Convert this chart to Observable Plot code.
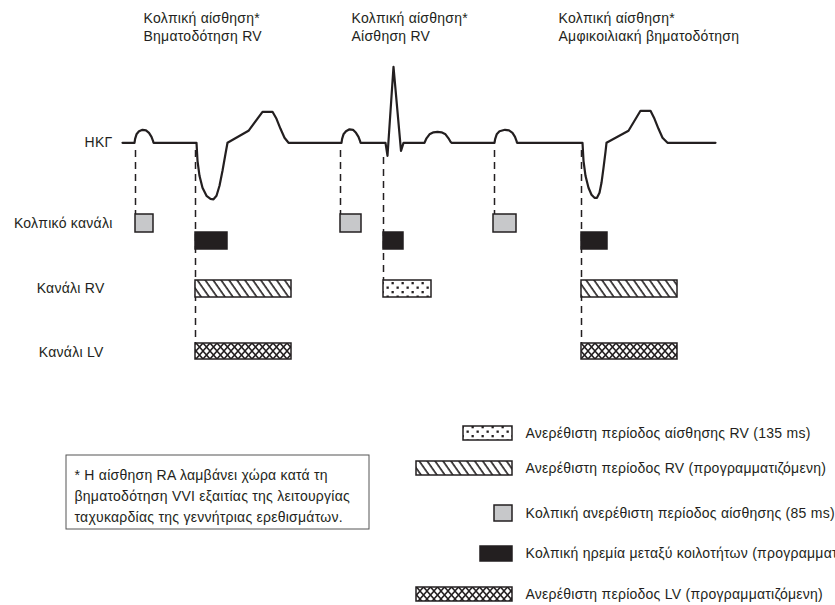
<!DOCTYPE html>
<html><head><meta charset="utf-8">
<script src="https://cdn.jsdelivr.net/npm/d3@7"></script>
<script src="https://cdn.jsdelivr.net/npm/@observablehq/plot@0.6"></script>
<style>body{margin:0;background:#fff} svg{display:block} svg text{letter-spacing:0.25px}</style>
</head><body><div id="chart"></div>
<script>
// ---------------- data ----------------
// ECG trace: [time, amplitude above baseline]
const ecg = [
  [122,0],[134,0],[134.6,4],[136,8.5],[138.5,11.5],[142,13],[145.5,12.5],[148.5,10],[151,6],[152.5,2],[153,0],
  [196,0],[197,-18],[199,-33],[202,-45],[206,-53],[210,-56],[213,-56.5],[216,-53],[219,-43],[222,-28],[225,-11],[227,0],
  [248,12],[262,31],[272,31],[276,24],[280,14],[284,5],[288,0],
  [341,0],[341.6,4],[343,8.5],[345.5,11.5],[349,13.5],[352.5,13],[355.5,10],[358,6],[359.5,2],[360,0],
  [385,0],[387,-13],[393,76],[400.5,-8],[403,0],
  [424,0],[426,4.5],[429,8.5],[433,10.5],[437,11],[441,10.5],[445,8.5],[448,4.5],[450,1],[451,0],
  [494,0],[494.7,4],[496.2,8.5],[499,11.5],[504.5,13],[508.5,12.5],[512,10],[514.5,6],[516,2],[516.5,0],
  [582,0],[583,-18],[585,-33],[588,-45],[591,-52],[594,-55],[596.5,-55],[599,-50],[601,-40],[603,-25],[605,-9],[606,0],
  [628,12],[640,32],[650,32],[654,24],[658,14],[662,5],[667,0],
  [715,0]
];
// Events marked by dashed lines: AS = atrial sense, VP = ventricular pace, VS = RV sense
const events = [
  {t:135, type:"AS"}, {t:195, type:"VP"}, {t:340, type:"AS"},
  {t:383, type:"VS"}, {t:494, type:"AS"}, {t:581, type:"VP"}
];
const atrialSenseRefractory = [[135,153],[340,361],[493,516]];
const atrialBlanking       = [[195,227],[383,403],[581,607]];
const rvRefractory         = [[195,291],[581,677]];
const rvSenseRefractory    = [[383,431]];
const lvRefractory         = [[195,291],[581,677]];

const annotationLines = [
  ["Κολπική αίσθηση*","Βηματοδότηση RV"],
  ["Κολπική αίσθηση*","Αίσθηση RV"],
  ["Κολπική αίσθηση*","Αμφικοιλιακή βηματοδότηση"]
];
const channelLabels = ["ΗΚΓ","Κολπικό κανάλι","Κανάλι RV","Κανάλι LV"];
const noteLines = [
  "* Η αίσθηση RA λαμβάνει χώρα κατά τη",
  "βηματοδότηση VVI εξαιτίας της λειτουργίας",
  "ταχυκαρδίας της γεννήτριας ερεθισμάτων."
];
const legendKeys = ["rvSense","rvRef","aSense","aBlank","lvRef"];
const legendLabels = [
  "Ανερέθιστη περίοδος αίσθησης RV (135 ms)",
  "Ανερέθιστη περίοδος RV (προγραμματιζόμενη)",
  "Κολπική ανερέθιστη περίοδος αίσθησης (85 ms)",
  "Κολπική ηρεμία μεταξύ κοιλοτήτων (προγραμματιζόμενη)",
  "Ανερέθιστη περίοδος LV (προγραμματιζόμενη)"
];

// ---------------- layout / style ----------------
const INK = "#231f20";
const FS = 14;
const L = {
  ecgBase: 142.3,
  rows: {aSense:[214,232], aBlank:[232,249], rv:[280,297], lv:[343,359]},
  eventSpan: {AS:[150,"aSense"], VP:[150,"lv"], VS:[157,"rv"]},
  annX: [143,351,558], annY: 26,
  labelPos: [[112,142],[112,223],[104,288],[103,352]],
  note: {x1:66, x2:369, y1:455, y2:529, tx:74, ty:494},
  legend: {textX:525, right:512, rows:[[463,426,440],[416,461,475],[494,505,521],[480,546,561],[416,587,601]]}
};
const fills = {rvSense:"url(#dots)", rvRef:"url(#hatch)", aSense:"#c7c8ca", aBlank:INK, lvRef:"url(#xhatch)"};

const boxes = (data, row, fill) => Plot.rect(data, {
  x1: d => d[0], x2: d => d[1],
  y1: () => L.rows[row][0], y2: () => L.rows[row][1],
  fill, stroke: INK, strokeWidth: 1.5
});

const legendMarks = legendKeys.flatMap((k, i) => {
  const r = L.legend.rows[i];
  return [
    Plot.rect([k], {x1: () => r[0], x2: () => L.legend.right, y1: () => r[1], y2: () => r[2],
      fill: fills[k], stroke: INK, strokeWidth: 1.5}),
    Plot.text([legendLabels[i]], {x: () => L.legend.textX, y: () => (r[1] + r[2]) / 2, text: d => d,
      textAnchor: "start", lineAnchor: "middle", fontSize: FS, fill: INK})
  ];
});

const svg = Plot.plot({
  width: 835, height: 605, margin: 0,
  x: {domain: [0, 835], range: [0, 835], axis: null},
  y: {domain: [0, 605], range: [0, 605], axis: null},
  style: {fontFamily: "'Liberation Sans', Arial, sans-serif", background: "white"},
  marks: [
    Plot.ruleX(events, {
      x: "t",
      y1: d => L.eventSpan[d.type][0],
      y2: d => L.rows[L.eventSpan[d.type][1]][0],
      stroke: INK, strokeWidth: 1.5, strokeDasharray: "7,5"
    }),
    boxes(atrialSenseRefractory, "aSense", fills.aSense),
    boxes(atrialBlanking, "aBlank", fills.aBlank),
    boxes(rvRefractory, "rv", fills.rvRef),
    boxes(rvSenseRefractory, "rv", fills.rvSense),
    boxes(lvRefractory, "lv", fills.lvRef),
    Plot.line(ecg, {x: d => d[0], y: d => L.ecgBase - d[1], stroke: INK, strokeWidth: 2.2}),
    Plot.text(annotationLines, {x: (d, i) => L.annX[i], y: () => L.annY, text: d => d.join("\n"),
      textAnchor: "start", lineAnchor: "middle", lineHeight: 1.3, fontSize: FS, fill: INK}),
    Plot.text(channelLabels, {x: (d, i) => L.labelPos[i][0], y: (d, i) => L.labelPos[i][1], text: d => d,
      textAnchor: "end", lineAnchor: "middle", fontSize: FS, fill: INK}),
    Plot.rect([L.note], {x1: d => d.x1, x2: d => d.x2, y1: d => d.y1, y2: d => d.y2,
      fill: "white", stroke: "#555", strokeWidth: 1}),
    Plot.text([noteLines.join("\n")], {x: () => L.note.tx, y: () => L.note.ty, text: d => d,
      textAnchor: "start", lineAnchor: "middle", lineHeight: 1.5, fontSize: FS, fill: INK}),
    ...legendMarks
  ]
});

// patterns
const defs = d3.select(svg).insert("defs", ":first-child");
const hatch = defs.append("pattern").attr("id", "hatch").attr("patternUnits", "userSpaceOnUse")
  .attr("width", 6.5).attr("height", 10).attr("patternTransform", "rotate(-35)");
hatch.append("rect").attr("width", 6.5).attr("height", 10).attr("fill", "white");
hatch.append("line").attr("x1", 1).attr("x2", 1).attr("y1", -1).attr("y2", 11)
  .attr("stroke", INK).attr("stroke-width", 1.6);
const xh = defs.append("pattern").attr("id", "xhatch").attr("patternUnits", "userSpaceOnUse")
  .attr("width", 7).attr("height", 8).attr("y", 343);
xh.append("rect").attr("width", 7).attr("height", 8).attr("fill", "white");
xh.append("path").attr("d", "M-3.5,-4L10.5,12M10.5,-4L-3.5,12").attr("stroke", INK).attr("stroke-width", 1.5).attr("fill", "none");
const dots = defs.append("pattern").attr("id", "dots").attr("patternUnits", "userSpaceOnUse")
  .attr("width", 10).attr("height", 9).attr("y", 280);
dots.append("rect").attr("width", 10).attr("height", 9).attr("fill", "white");
dots.append("rect").attr("x", 1.5).attr("y", 2).attr("width", 2.3).attr("height", 2.3).attr("fill", INK);
dots.append("rect").attr("x", 6.5).attr("y", 6.5).attr("width", 2.3).attr("height", 2.3).attr("fill", INK);

document.getElementById("chart").appendChild(svg);
</script>
</body></html>
